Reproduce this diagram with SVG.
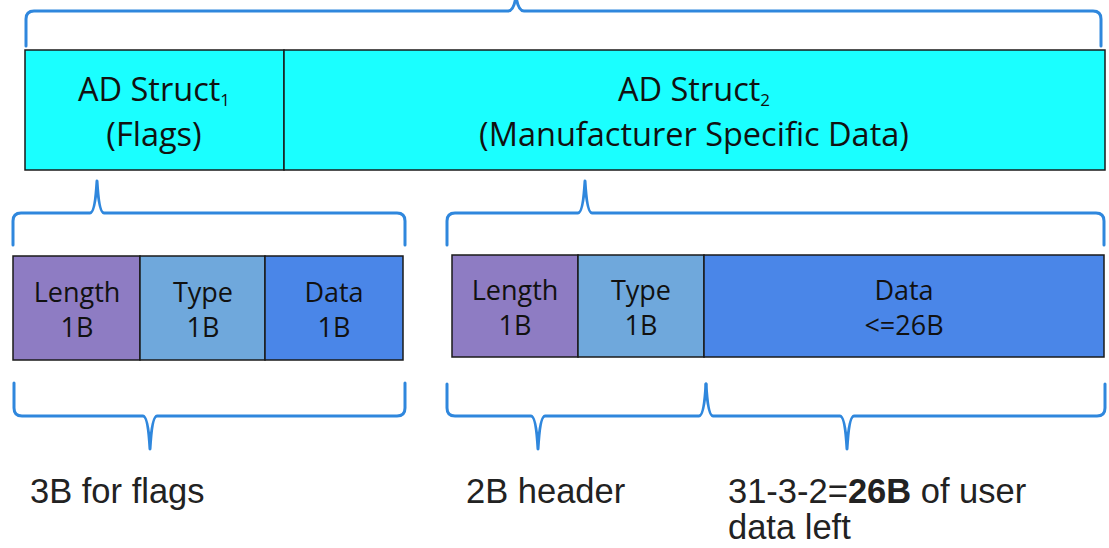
<svg xmlns="http://www.w3.org/2000/svg" width="1109" height="548" viewBox="0 0 1109 548">
  <style>
    .brace { fill: none; stroke: #2f87dd; stroke-width: 3; stroke-linecap: round; stroke-linejoin: round; }
    .cell { stroke: #1a1a1a; stroke-width: 1.5; }
    .cyan { fill: #1affff; }
    .purple { fill: #8e7cc3; }
    .lblue { fill: #6fa8dc; }
    .blue { fill: #4a86e8; }
    .lbl { font-family: "Open Sans", "Noto Sans", sans-serif; fill: #111; text-anchor: middle; }
    .big { font-size: 32.5px; }
    .mid { font-size: 27px; }
    .sub { font-size: 17px; }
    .note { font-family: "Liberation Sans", Arial, sans-serif; font-size: 34.5px; fill: #222; }
  </style>

  <!-- top-level AD structures -->
  <g id="ad-struct-1">
    <rect class="cell cyan" x="25" y="50" width="259" height="120"/>
    <text class="lbl big" x="154" y="101">AD Struct<tspan class="sub" dy="5">1</tspan></text>
    <text class="lbl big" x="154" y="146">(Flags)</text>
  </g>
  <g id="ad-struct-2">
    <rect class="cell cyan" x="284" y="50" width="821" height="120"/>
    <text class="lbl big" x="694" y="101">AD Struct<tspan class="sub" dy="5">2</tspan></text>
    <text class="lbl big" x="694" y="146">(Manufacturer Specific Data)</text>
  </g>

  <!-- flags structure fields -->
  <g id="flags-length">
    <rect class="cell purple" x="13" y="256" width="127" height="104"/>
    <text class="lbl mid" x="77" y="302">Length</text>
    <text class="lbl mid" x="77" y="337">1B</text>
  </g>
  <g id="flags-type">
    <rect class="cell lblue" x="140" y="256" width="125" height="104"/>
    <text class="lbl mid" x="203" y="302">Type</text>
    <text class="lbl mid" x="203" y="337">1B</text>
  </g>
  <g id="flags-data">
    <rect class="cell blue" x="265" y="256" width="138" height="104"/>
    <text class="lbl mid" x="334" y="302">Data</text>
    <text class="lbl mid" x="334" y="337">1B</text>
  </g>

  <!-- manufacturer data structure fields -->
  <g id="msd-length">
    <rect class="cell purple" x="452" y="255" width="126" height="102"/>
    <text class="lbl mid" x="515" y="300">Length</text>
    <text class="lbl mid" x="515" y="335">1B</text>
  </g>
  <g id="msd-type">
    <rect class="cell lblue" x="578" y="255" width="126" height="102"/>
    <text class="lbl mid" x="641" y="300">Type</text>
    <text class="lbl mid" x="641" y="335">1B</text>
  </g>
  <g id="msd-data">
    <rect class="cell blue" x="704" y="255" width="400" height="102"/>
    <text class="lbl mid" x="904" y="300">Data</text>
    <text class="lbl mid" x="904" y="335">&lt;=26B</text>
  </g>

  <!-- braces -->
  <g id="connectors">
    <path class="brace" d="M26,46 V19 Q26,11 34,11 H508 Q514,11 516,-4 Q518,11 524,11 H1093 Q1101,11 1101,19 V46"/>
    <path class="brace" d="M13,245 V221 Q13,213 21,213 H90 Q95,213 97,181 Q99,213 104,213 H397 Q405,213 405,221 V245"/>
    <path class="brace" d="M447,245 V221 Q447,213 455,213 H578 Q583,213 585,181 Q587,213 592,213 H1096 Q1104,213 1104,221 V245"/>
    <path class="brace" d="M14,383 V408 Q14,416 22,416 H143 Q148,416 150,449 Q152,416 157,416 H397 Q405,416 405,408 V383"/>
    <path class="brace" d="M447,384 V408 Q447,416 455,416 H531 Q536,416 538,449 Q540,416 545,416 H699 Q704,416 706,384"/>
    <path class="brace" d="M706,384 Q708,416 713,416 H840 Q845,416 847,449 Q849,416 854,416 H1097 Q1105,416 1105,408 V384"/>
  </g>

  <!-- size notes -->
  <g id="note-flags">
    <text class="note" x="30" y="503">3B for flags</text>
  </g>
  <g id="note-header">
    <text class="note" x="466" y="503">2B header</text>
  </g>
  <g id="note-user-data">
    <text class="note" x="728" y="503">31-3-2=<tspan font-weight="bold">26B</tspan> of user</text>
    <text class="note" x="728" y="539">data left</text>
  </g>
</svg>
